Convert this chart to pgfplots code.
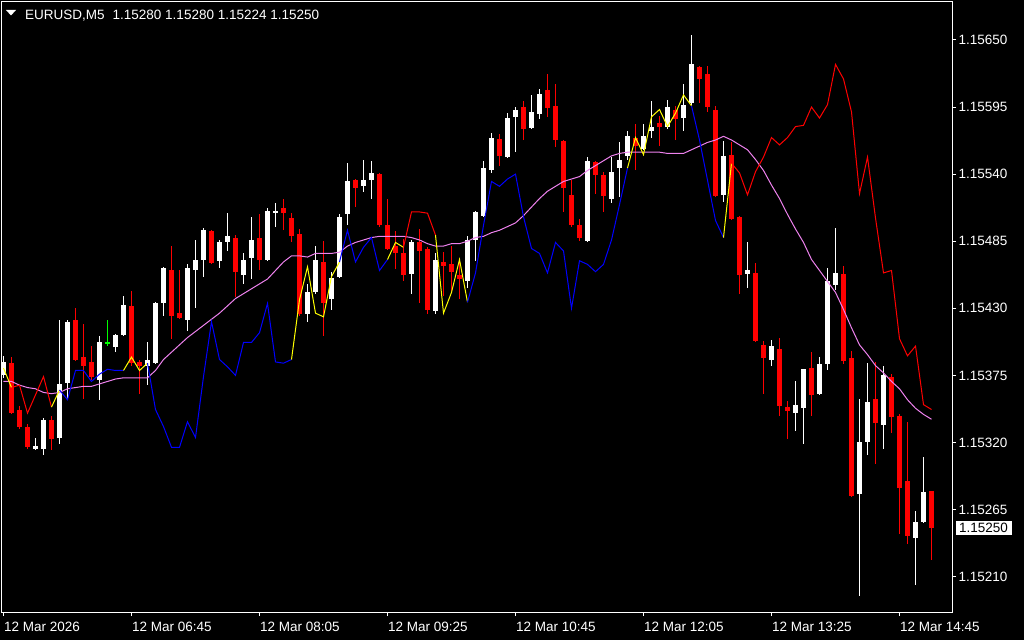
\documentclass[border=0pt]{standalone}
\usepackage{pgfplots}
\pgfplotsset{compat=1.18}
\usepackage{pgfplotstable}
\usepackage{fontspec}
\setmainfont{Liberation Sans}
\definecolor{mtred}{RGB}{255,0,0}
\definecolor{mtblue}{RGB}{0,0,255}
\definecolor{mtyellow}{RGB}{255,255,0}
\definecolor{mtviolet}{RGB}{238,130,238}
\definecolor{mtgreen}{RGB}{0,255,0}

% prices 1.15xxx are mapped to xxx (units of 0.00001 above 1.15) to keep full precision
\makeatletter
\def\pricetrafo#1{%
  \edef\pr@tmp{#1}%
  \expandafter\pr@check\expandafter{\pr@tmp}%
  \ifpgfutil@in@
    \expandafter\pr@strip\pr@tmp\relax
  \else
    \let\pgfmathresult\pr@tmp
  \fi}
\def\pr@check#1{\pgfutil@in@{1.15}{#1}}
\def\pr@strip#11.15#2#3#4#5\relax{\def\pgfmathresult{#2#3#4}}
\makeatother

% bullish (white) candles: bar O H L C
\pgfplotstableread{
k O H L C
0 1.15375 1.15391 1.15373 1.15386
4 1.15315 1.15324 1.15314 1.15317
5 1.15315 1.15340 1.15310 1.15338
7 1.15324 1.15420 1.15319 1.15368
8 1.15369 1.15420 1.15355 1.15419
12 1.15371 1.15407 1.15355 1.15402
14 1.15398 1.15409 1.15394 1.15408
15 1.15408 1.15440 1.15407 1.15433
18 1.15383 1.15402 1.15367 1.15388
19 1.15385 1.15435 1.15384 1.15434
20 1.15434 1.15464 1.15424 1.15463
23 1.15420 1.15466 1.15411 1.15463
24 1.15461 1.15486 1.15430 1.15470
25 1.15470 1.15496 1.15456 1.15494
27 1.15469 1.15486 1.15463 1.15484
28 1.15484 1.15508 1.15477 1.15489
30 1.15457 1.15475 1.15450 1.15470
31 1.15471 1.15505 1.15454 1.15486
33 1.15470 1.15512 1.15469 1.15510
34 1.15508 1.15516 1.15497 1.15510
38 1.15425 1.15450 1.15419 1.15443
39 1.15443 1.15481 1.15442 1.15470
41 1.15438 1.15460 1.15429 1.15455
42 1.15456 1.15507 1.15455 1.15505
43 1.15507 1.15549 1.15498 1.15534
45 1.15530 1.15552 1.15525 1.15535
46 1.15535 1.15551 1.15520 1.15541
51 1.15458 1.15486 1.15442 1.15484
54 1.15428 1.15475 1.15425 1.15470
58 1.15452 1.15489 1.15447 1.15486
59 1.15486 1.15510 1.15469 1.15509
60 1.15506 1.15551 1.15505 1.15545
61 1.15543 1.15574 1.15541 1.15570
63 1.15554 1.15590 1.15553 1.15586
64 1.15587 1.15595 1.15558 1.15593
66 1.15578 1.15605 1.15577 1.15591
67 1.15589 1.15610 1.15585 1.15606
73 1.15485 1.15554 1.15484 1.15551
76 1.15520 1.15554 1.15516 1.15542
77 1.15545 1.15566 1.15521 1.15552
78 1.15555 1.15575 1.15552 1.15571
80 1.15561 1.15581 1.15560 1.15571
81 1.15575 1.15600 1.15570 1.15579
83 1.15579 1.15601 1.15577 1.15595
85 1.15586 1.15614 1.15575 1.15597
86 1.15598 1.15654 1.15597 1.15630
90 1.15523 1.15567 1.15517 1.15555
93 1.15458 1.15484 1.15447 1.15461
96 1.15388 1.15404 1.15383 1.15399
99 1.15344 1.15370 1.15329 1.15351
100 1.15348 1.15380 1.15319 1.15380
102 1.15360 1.15390 1.15359 1.15384
103 1.15384 1.15463 1.15379 1.15452
104 1.15449 1.15496 1.15445 1.15459
107 1.15278 1.15356 1.15194 1.15320
108 1.15320 1.15385 1.15310 1.15353
110 1.15334 1.15383 1.15315 1.15375
114 1.15242 1.15264 1.15203 1.15255
115 1.15255 1.15308 1.15254 1.15279
}\bull

% bearish (red) candles
\pgfplotstableread{
k O H L C
1 1.15385 1.15390 1.15343 1.15344
2 1.15347 1.15350 1.15331 1.15333
3 1.15333 1.15335 1.15315 1.15316
6 1.15338 1.15342 1.15314 1.15323
9 1.15420 1.15430 1.15387 1.15388
10 1.15390 1.15417 1.15356 1.15383
11 1.15386 1.15399 1.15371 1.15374
16 1.15432 1.15444 1.15383 1.15385
17 1.15386 1.15388 1.15360 1.15383
21 1.15461 1.15481 1.15405 1.15424
22 1.15426 1.15461 1.15421 1.15422
26 1.15493 1.15494 1.15466 1.15467
29 1.15488 1.15490 1.15439 1.15460
32 1.15488 1.15507 1.15461 1.15470
35 1.15512 1.15520 1.15494 1.15508
36 1.15504 1.15508 1.15484 1.15489
37 1.15491 1.15495 1.15424 1.15425
40 1.15468 1.15485 1.15407 1.15434
44 1.15535 1.15536 1.15513 1.15529
47 1.15540 1.15541 1.15497 1.15498
48 1.15498 1.15520 1.15478 1.15479
49 1.15481 1.15493 1.15462 1.15475
50 1.15475 1.15487 1.15452 1.15457
52 1.15484 1.15495 1.15434 1.15477
53 1.15479 1.15480 1.15425 1.15429
55 1.15468 1.15476 1.15440 1.15465
56 1.15466 1.15481 1.15444 1.15460
57 1.15457 1.15470 1.15438 1.15454
62 1.15569 1.15573 1.15547 1.15555
65 1.15595 1.15600 1.15568 1.15577
68 1.15609 1.15622 1.15587 1.15594
69 1.15596 1.15614 1.15562 1.15568
70 1.15567 1.15568 1.15509 1.15529
71 1.15523 1.15535 1.15497 1.15498
72 1.15498 1.15503 1.15485 1.15488
74 1.15550 1.15551 1.15524 1.15539
75 1.15539 1.15542 1.15509 1.15522
79 1.15570 1.15581 1.15543 1.15563
82 1.15582 1.15588 1.15563 1.15579
84 1.15593 1.15596 1.15568 1.15585
87 1.15628 1.15629 1.15598 1.15618
88 1.15622 1.15629 1.15591 1.15595
89 1.15593 1.15596 1.15521 1.15522
91 1.15556 1.15566 1.15502 1.15503
92 1.15505 1.15506 1.15442 1.15457
94 1.15459 1.15467 1.15402 1.15403
95 1.15400 1.15403 1.15360 1.15389
97 1.15397 1.15406 1.15342 1.15350
98 1.15349 1.15354 1.15323 1.15346
101 1.15381 1.15394 1.15342 1.15359
105 1.15458 1.15465 1.15384 1.15387
106 1.15389 1.15395 1.15275 1.15276
109 1.15356 1.15386 1.15302 1.15336
111 1.15374 1.15376 1.15328 1.15341
112 1.15342 1.15343 1.15245 1.15283
113 1.15288 1.15337 1.15237 1.15243
116 1.15280 1.15280 1.15224 1.15250
}\bear

% doji
\pgfplotstableread{
k O H L C
13 1.15402 1.15420 1.15399 1.15401
}\doji

% moving average (violet)
\pgfplotstableread{
k v
0 1.15370
1 1.15370
2 1.15367
3 1.15365
4 1.15364
5 1.15361
6 1.15360
7 1.15361
8 1.15364
9 1.15365
10 1.15366
11 1.15366
12 1.15368
13 1.15370
14 1.15372
15 1.15373
16 1.15373
17 1.15373
18 1.15373
19 1.15379
20 1.15388
21 1.15394
22 1.15400
23 1.15406
24 1.15411
25 1.15416
26 1.15421
27 1.15426
28 1.15432
29 1.15438
30 1.15442
31 1.15446
32 1.15450
33 1.15454
34 1.15461
35 1.15468
36 1.15473
37 1.15473
38 1.15472
39 1.15475
40 1.15475
41 1.15475
42 1.15476
43 1.15481
44 1.15484
45 1.15486
46 1.15488
47 1.15489
48 1.15489
49 1.15489
50 1.15489
51 1.15488
52 1.15486
53 1.15483
54 1.15481
55 1.15481
56 1.15483
57 1.15483
58 1.15485
59 1.15488
60 1.15489
61 1.15492
62 1.15494
63 1.15497
64 1.15500
65 1.15506
66 1.15513
67 1.15520
68 1.15526
69 1.15530
70 1.15534
71 1.15536
72 1.15538
73 1.15543
74 1.15547
75 1.15551
76 1.15555
77 1.15557
78 1.15558
79 1.15558
80 1.15558
81 1.15558
82 1.15558
83 1.15557
84 1.15557
85 1.15557
86 1.15560
87 1.15563
88 1.15566
89 1.15568
90 1.15571
91 1.15568
92 1.15564
93 1.15560
94 1.15552
95 1.15543
96 1.15531
97 1.15520
98 1.15507
99 1.15495
100 1.15484
101 1.15470
102 1.15461
103 1.15452
104 1.15443
105 1.15429
106 1.15414
107 1.15400
108 1.15392
109 1.15383
110 1.15377
111 1.15370
112 1.15364
113 1.15355
114 1.15348
115 1.15343
116 1.15339
}\ma

% colour-coded indicator line
\pgfplotstableread{
k v
0 1.15381
1 1.15365
2 1.15367
3 1.15344
4 1.15359
5 1.15374
6 1.15349
7 1.15363
8 1.15355
9 1.15379
10 1.15379
11 1.15370
12 1.15376
13 1.15380
14 1.15379
15 1.15379
16 1.15390
17 1.15379
18 1.15385
19 1.15347
20 1.15333
21 1.15316
22 1.15316
23 1.15337
24 1.15324
25 1.15374
26 1.15419
27 1.15388
28 1.15382
29 1.15375
30 1.15402
31 1.15402
32 1.15410
33 1.15434
34 1.15386
35 1.15385
36 1.15388
37 1.15437
38 1.15464
39 1.15426
40 1.15423
41 1.15456
42 1.15468
43 1.15494
44 1.15468
45 1.15480
46 1.15488
47 1.15461
48 1.15470
49 1.15484
50 1.15480
51 1.15509
52 1.15509
53 1.15508
54 1.15490
55 1.15426
56 1.15443
57 1.15470
58 1.15435
59 1.15459
60 1.15498
61 1.15534
62 1.15530
63 1.15536
64 1.15540
65 1.15505
66 1.15479
67 1.15475
68 1.15459
69 1.15484
70 1.15477
71 1.15430
72 1.15469
73 1.15466
74 1.15460
75 1.15466
76 1.15486
77 1.15515
78 1.15545
79 1.15570
80 1.15556
81 1.15587
82 1.15593
83 1.15579
84 1.15590
85 1.15605
86 1.15596
87 1.15568
88 1.15535
89 1.15502
90 1.15488
91 1.15549
92 1.15541
93 1.15523
94 1.15542
95 1.15554
96 1.15570
97 1.15564
98 1.15570
99 1.15579
100 1.15580
101 1.15595
102 1.15586
103 1.15597
104 1.15630
105 1.15618
106 1.15591
107 1.15524
108 1.15554
109 1.15504
110 1.15459
111 1.15461
112 1.15405
113 1.15391
114 1.15399
115 1.15351
116 1.15347
}\ind

\begin{document}
\begin{tikzpicture}
\fill[black] (0pt,0pt) rectangle (1024pt,640pt);
\begin{axis}[
  at={(2pt,28pt)}, anchor=south west,
  scale only axis, width=950pt, height=610pt,
  xmin=-0.1875, xmax=118.5625, ymin=180.96, ymax=681.16,
  y coord trafo/.code={\pricetrafo{#1}},
  axis on top,
  axis line style={white, line width=1pt},
  tick style={white, line width=1pt},
  tick align=outside, major tick length=4pt,
  xtick pos=left, ytick pos=right, yticklabel pos=right,
  xtick={0,16,32,48,64,80,96,112},
  xticklabels={12 Mar 2026,12 Mar 06:45,12 Mar 08:05,12 Mar 09:25,12 Mar 10:45,12 Mar 12:05,12 Mar 13:25,12 Mar 14:45},
  ytick={210,265,320,375,430,485,540,595,650},
  yticklabels={1.15210,1.15265,1.15320,1.15375,1.15430,1.15485,1.15540,1.15595,1.15650},
  ticklabel style={text=white, font=\fontsize{13.5}{16}\selectfont},
  xticklabel style={anchor=north west, inner sep=0pt, xshift=0.5pt, yshift=-6pt},
  yticklabel style={anchor=west, inner sep=0pt, xshift=2.5pt},
  extra y ticks={250}, extra y tick labels={1.15250},
  extra y tick style={major tick length=0pt, yticklabel style={fill=white, text=black, inner xsep=3.5pt, inner ysep=2.5pt, xshift=1pt}},
]
% candle bodies and wicks (bodies drawn to the top, then cleared below the bottom)
\addplot[ycomb, mark=none, draw=white, line width=5pt] table[x=k,y=C]{\bull};
\addplot[ycomb, mark=none, draw=black, line width=7pt] table[x=k,y=O]{\bull};
\addplot[ycomb, mark=none, draw=white, line width=1pt] table[x=k,y=H]{\bull};
\addplot[ycomb, mark=none, draw=black, line width=3pt] table[x=k,y=L]{\bull};
\addplot[ycomb, mark=none, draw=mtred, line width=5pt] table[x=k,y=O]{\bear};
\addplot[ycomb, mark=none, draw=black, line width=7pt] table[x=k,y=C]{\bear};
\addplot[ycomb, mark=none, draw=mtred, line width=1pt] table[x=k,y=H]{\bear};
\addplot[ycomb, mark=none, draw=black, line width=3pt] table[x=k,y=L]{\bear};
\addplot[ycomb, mark=none, draw=mtgreen, line width=5pt] table[x=k,y=O]{\doji};
\addplot[ycomb, mark=none, draw=black, line width=7pt] table[x=k,y=C]{\doji};
\addplot[ycomb, mark=none, draw=mtgreen, line width=1pt] table[x=k,y=H]{\doji};
\addplot[ycomb, mark=none, draw=black, line width=3pt] table[x=k,y=L]{\doji};
% moving average
\addplot[mtviolet, line width=1pt, mark=none] table[x=k,y=v]{\ma};
% indicator segments
\addplot[mtyellow, line width=1pt, mark=none, restrict x to domain=0:1] table[x=k,y=v]{\ind};
\addplot[mtred, line width=1pt, mark=none, restrict x to domain=1:6] table[x=k,y=v]{\ind};
\addplot[mtyellow, line width=1pt, mark=none, restrict x to domain=6:7] table[x=k,y=v]{\ind};
\addplot[mtblue, line width=1pt, mark=none, restrict x to domain=7:15] table[x=k,y=v]{\ind};
\addplot[mtyellow, line width=1pt, mark=none, restrict x to domain=15:18] table[x=k,y=v]{\ind};
\addplot[mtblue, line width=1pt, mark=none, restrict x to domain=18:36] table[x=k,y=v]{\ind};
\addplot[mtyellow, line width=1pt, mark=none, restrict x to domain=36:42] table[x=k,y=v]{\ind};
\addplot[mtblue, line width=1pt, mark=none, restrict x to domain=42:48] table[x=k,y=v]{\ind};
\addplot[mtyellow, line width=1pt, mark=none, restrict x to domain=48:50] table[x=k,y=v]{\ind};
\addplot[mtred, line width=1pt, mark=none, restrict x to domain=50:54] table[x=k,y=v]{\ind};
\addplot[mtyellow, line width=1pt, mark=none, restrict x to domain=54:58] table[x=k,y=v]{\ind};
\addplot[mtblue, line width=1pt, mark=none, restrict x to domain=58:78] table[x=k,y=v]{\ind};
\addplot[mtyellow, line width=1pt, mark=none, restrict x to domain=78:86] table[x=k,y=v]{\ind};
\addplot[mtblue, line width=1pt, mark=none, restrict x to domain=86:90] table[x=k,y=v]{\ind};
\addplot[mtyellow, line width=1pt, mark=none, restrict x to domain=90:91] table[x=k,y=v]{\ind};
\addplot[mtred, line width=1pt, mark=none, restrict x to domain=91:116] table[x=k,y=v]{\ind};
\end{axis}
\fill[white] (6pt,630pt) -- (16pt,630pt) -- (11pt,624.5pt) -- cycle;
\node[anchor=base west, inner sep=0pt, text=white, font=\fontsize{13.5}{16}\selectfont] at (25pt,620.5pt) {EURUSD,M5\hspace{8pt}1.15280 1.15280 1.15224 1.15250};
\end{tikzpicture}
\end{document}
